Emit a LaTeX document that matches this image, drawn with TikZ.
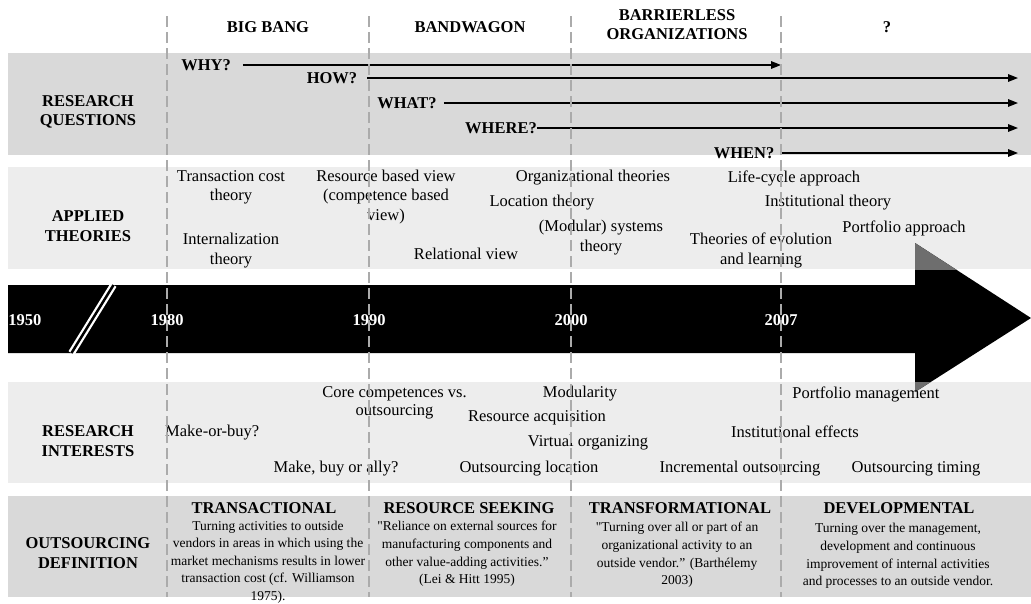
\documentclass[tikz,border=0pt]{standalone}
\usepackage{fontspec}
\setmainfont{Liberation Serif}
\usetikzlibrary{arrows.meta}
\usepackage{xcolor}

\definecolor{bandDark}{HTML}{D9D9D9}
\definecolor{bandLight}{HTML}{EDEDED}
\definecolor{dashGray}{HTML}{ABABAB}
\definecolor{tipGray}{HTML}{6E6E6E}
\newcommand{\txtfont}{\fontsize{16.5}{19.5}\selectfont}
\newcommand{\deffont}{\fontsize{13.5}{17.6}\selectfont}

\begin{document}
\begin{tikzpicture}[x=1pt,y=-1pt,
  txt/.style={font=\txtfont, align=center, inner sep=1pt},
  hd/.style={font=\txtfont\bfseries, align=center, inner sep=1pt},
  deftxt/.style={font=\deffont, align=center, inner sep=1pt},
  qarrow/.style={line width=1.6pt, -{Triangle[length=10pt,width=7.5pt]}},
  era/.style={dashGray, line width=2.8pt, dash pattern=on 11pt off 5pt},
  year/.style={font=\txtfont\bfseries, text=white, inner sep=1pt}]
\useasboundingbox (0,0) rectangle (1031,603);

% bands
\fill[bandDark] (8,53) rectangle (1031,155);
\fill[bandLight] (8,167) rectangle (1031,269);
\fill[bandLight] (8,382) rectangle (1031,483);
\fill[bandDark] (8,496) rectangle (1031,597);

% time line
\fill[black] (8,285) -- (915,285) -- (915,243) -- (1031,318) -- (915,392) -- (915,353) -- (8,353) -- cycle;
\begin{scope}
\clip (8,167) rectangle (1031,269);
\fill[tipGray] (915,243) -- (1031,318) -- (915,392) -- cycle;
\end{scope}
\begin{scope}
\clip (8,382) rectangle (1031,483);
\fill[tipGray] (915,243) -- (1031,318) -- (915,392) -- cycle;
\end{scope}
\draw[white, line width=7pt] (71.5,353) -- (113.5,285);
\draw[black, line width=2.5pt] (71.5,353) -- (113.5,285);

\node[year] (y1950) at (25,320) {1950};
\node[year] (y1980) at (167,320) {1980};
\node[year] (y1990) at (369,320) {1990};
\node[year] (y2000) at (571,320) {2000};
\node[year] (y2007) at (781,320) {2007};

% eras
\node[hd] (bigbang) at (268,27) {BIG BANG};
\node[hd] (bandwagon) at (470,27) {BANDWAGON};
\node[hd, font=\fontsize{16.5}{18.5}\selectfont\bfseries] (barrierless) at (677,24.5) {BARRIERLESS\\ORGANIZATIONS};
\node[hd] (unknown) at (887,27) {?};

% row labels
\node[hd] (rq) at (88,112) {RESEARCH\\QUESTIONS};
\node[hd] (at) at (88,226) {APPLIED\\THEORIES};
\node[hd] (ri) at (88,441) {RESEARCH\\INTERESTS};
\node[hd] (od) at (88,553) {OUTSOURCING\\DEFINITION};

% research questions
\node[hd, inner sep=12pt] (why) at (206,65) {WHY?};
\node[hd, inner sep=10pt] (how) at (332,78) {HOW?};
\node[hd, inner sep=7pt] (what) at (407,103) {WHAT?};
\node[hd, inner sep=0.5pt] (where) at (501,128) {WHERE?};
\node[hd, inner sep=7pt] (when) at (744,153) {WHEN?};
\coordinate (whyend) at (781,65);
\coordinate (howend) at (1018,78);
\coordinate (whatend) at (1018,103);
\coordinate (whereend) at (1018,128);
\coordinate (whenend) at (1018,153);
\draw[qarrow] (why) -- (whyend);
\draw[qarrow] (how) -- (howend);
\draw[qarrow] (what) -- (whatend);
\draw[qarrow] (where) -- (whereend);
\draw[qarrow] (when) -- (whenend);

% applied theories
\node[txt] (tct) at (231,187.5) {Transaction cost\\theory};
\node[txt] (intl) at (231,250.5) {Internalization\\theory};
\node[txt] (rbv) at (386,197) {Resource based view\\(competence based\\view)};
\node[txt] (relv) at (466,254) {Relational view};
\node[txt] (orgt) at (593,178) {Organizational theories};
\node[txt] (loct) at (542,203) {Location theory};
\node[txt] (modt) at (601,237.5) {(Modular) systems\\theory};
\node[txt] (lifec) at (794,178) {Life-cycle approach};
\node[txt] (instt) at (828,203) {Institutional theory};
\node[txt] (portf) at (904,228) {Portfolio approach};
\node[txt] (evol) at (761,250.5) {Theories of evolution\\and learning};

% research interests
\node[txt, font=\fontsize{16.5}{18}\selectfont] (corec) at (394.5,403) {Core competences vs.\\outsourcing};
\node[txt, anchor=west] (mob) at (164,433) {Make-or-buy?};
\node[txt] (mba) at (336,469) {Make, buy or ally?};
\node[txt] (modu) at (580,394) {Modularity};
\node[txt] (resa) at (537,418) {Resource acquisition};
\node[txt] (virt) at (588,443) {Virtual organizing};
\node[txt] (outl) at (529,469) {Outsourcing location};
\node[txt] (portm) at (866,394) {Portfolio management};
\node[txt] (inste) at (795,432) {Institutional effects};
\node[txt] (incr) at (740,469) {Incremental outsourcing};
\node[txt] (timing) at (916,469) {Outsourcing timing};

% outsourcing definitions
\node[hd] (transh) at (264,508) {TRANSACTIONAL};
\node[deftxt] (transb) at (268,562) {Turning activities to outside\\vendors in areas in which using the\\market mechanisms results in lower\\transaction cost (cf. Williamson\\1975).};
\node[hd] (resh) at (469,508) {RESOURCE SEEKING};
\node[deftxt] (resb) at (467,554) {\textquotedbl Reliance on external sources for\\manufacturing components and\\other value-adding activities.''\\(Lei \& Hitt 1995)};
\node[hd] (transfh) at (680,508) {TRANSFORMATIONAL};
\node[deftxt] (transfb) at (677,555) {\textquotedbl Turning over all or part of an\\organizational activity to an\\outside vendor.'' (Barthélemy\\2003)};
\node[hd] (devh) at (899,508) {DEVELOPMENTAL};
\node[deftxt] (devb) at (898,556) {Turning over the management,\\development and continuous\\improvement of internal activities\\and processes to an outside vendor.};

% era borders
\draw[era] (167,16) -- (167,597);
\draw[era] (369,16) -- (369,597);
\draw[era] (571,16) -- (571,597);
\draw[era] (781,16) -- (781,597);

\end{tikzpicture}
\end{document}
